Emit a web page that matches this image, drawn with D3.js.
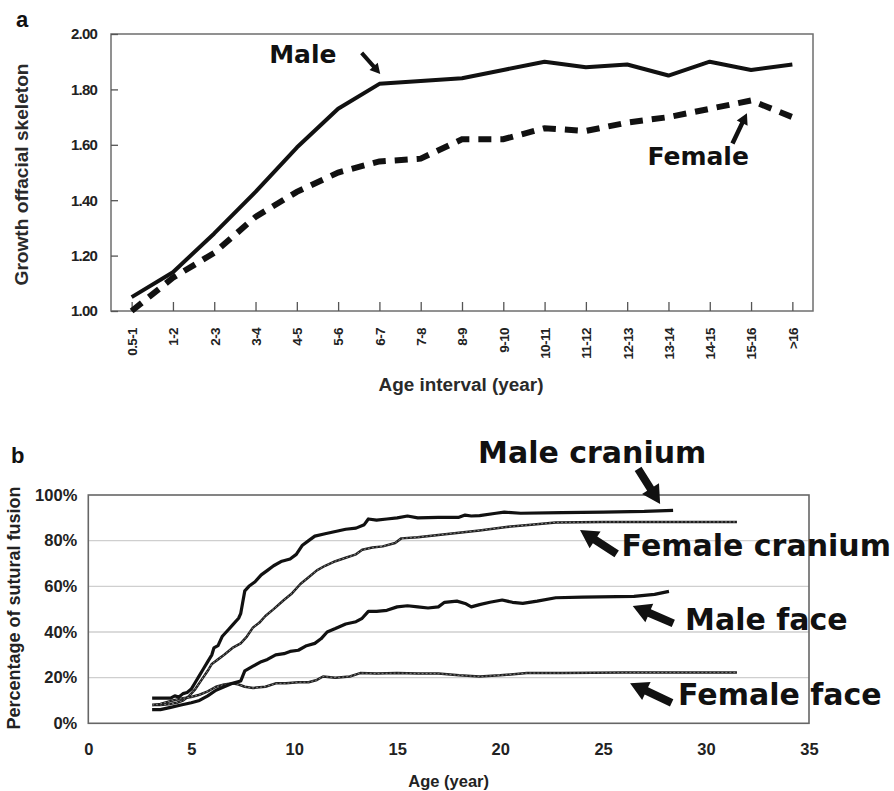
<!DOCTYPE html>
<html>
<head>
<meta charset="utf-8">
<script src="https://cdn.jsdelivr.net/npm/d3@7"></script>
<style>
  html, body { margin: 0; padding: 0; background: #fff; }
  svg { display: block; }
</style>
</head>
<body>
<svg id="fig" width="894" height="791"></svg>
<script>
// ---- Panel a: growth of the facial skeleton by age interval ----
const ageIntervals = ["0.5-1","1-2","2-3","3-4","4-5","5-6","6-7","7-8","8-9","9-10",
                      "10-11","11-12","12-13","13-14","14-15","15-16",">16"];
const maleGrowth   = [1.05,1.14,1.28,1.43,1.59,1.73,1.82,1.83,1.84,1.87,1.90,1.88,1.89,1.85,1.90,1.87,1.89];
const femaleGrowth = [1.00,1.12,1.21,1.34,1.43,1.50,1.54,1.55,1.62,1.62,1.66,1.65,1.68,1.70,1.73,1.76,1.70];
const growthTicks  = [1.00,1.20,1.40,1.60,1.80,2.00];

// ---- Panel b: cumulative sutural fusion by age ----
const maleCranium = [[3.1,11],[3.6,11],[4.0,11],[4.2,12],[4.4,11.5],[4.6,13],[4.8,13.5],[5.0,15],[5.2,18],
  [5.4,21],[5.6,24],[5.8,27],[6.0,30],[6.1,33],[6.3,34],[6.5,38],[6.8,41],[7.0,43],[7.3,46],[7.4,48],
  [7.5,53],[7.6,58],[7.8,60],[8.1,62],[8.4,65],[8.7,67],[9.0,69],[9.4,71],[9.8,72],[10.1,74],[10.4,78],
  [10.7,80],[11.0,82],[11.5,83],[12.0,84],[12.5,85],[13.0,85.5],[13.4,87],[13.6,89.5],[14.0,89],[14.5,89.5],
  [15.0,90],[15.5,90.8],[16.0,90],[17.0,90.2],[18.0,90.2],[18.3,91.2],[18.6,90.8],[19.0,91],[19.8,92],
  [20.2,92.5],[21.0,92],[23.0,92.3],[25.0,92.5],[27.0,92.8],[28.4,93.3]];
const femaleCranium = [[3.1,8],[3.5,8],[4.0,8.5],[4.3,9],[4.6,10],[4.9,12],[5.2,15],[5.5,19],[5.8,23],
  [6.0,26],[6.3,28],[6.6,30],[7.0,33],[7.4,35],[7.7,38],[8.0,42],[8.3,44],[8.6,47],[9.0,50],[9.5,54],
  [9.9,57],[10.3,61],[10.7,64],[11.1,67],[11.5,69],[12.0,71],[12.5,72.5],[13.0,74],[13.3,76],[13.8,77],
  [14.3,77.5],[14.9,79],[15.2,81],[16.0,81.5],[17.0,82.5],[18.0,83.5],[19.0,84.5],[20.3,86],[21.5,87],
  [22.7,88],[25.0,88.2],[28.0,88.2],[31.5,88.2]];
const maleFace = [[3.1,6],[3.5,6],[4.0,7],[4.5,8],[5.0,9],[5.4,10],[5.8,12],[6.2,14.5],[6.6,16],[7.0,17.5],
  [7.4,18.5],[7.6,23],[8.0,25],[8.4,27],[8.7,28],[9.1,30],[9.5,30.5],[9.8,31.5],[10.2,32],[10.6,34],
  [11.0,35],[11.3,37],[11.6,40],[12.0,41.5],[12.5,43.5],[13.0,44.5],[13.3,46],[13.6,49],[14.0,49],
  [14.5,49.5],[15.0,51],[15.5,51.5],[16.0,51],[16.5,50.5],[17.0,51],[17.3,53],[17.9,53.5],[18.3,52.5],
  [18.6,51],[19.0,52],[19.5,53],[20.1,54],[20.6,53],[21.1,52.5],[21.8,53.5],[22.7,55],[24.0,55.3],
  [26.5,55.6],[27.5,56.5],[28.2,57.8]];
const femaleFace = [[3.1,8],[3.5,8.5],[4.1,10],[4.6,11],[5.0,11.5],[5.4,12.5],[5.8,14],[6.2,16],[6.6,17],
  [7.0,17.5],[7.3,17],[7.6,16],[8.0,15.5],[8.6,16],[9.1,17.5],[9.6,17.5],[10.2,18],[10.7,18],[11.1,19],
  [11.4,20.5],[12.0,20],[12.7,20.5],[13.2,22],[14.0,21.8],[15.0,22],[16.0,21.8],[17.0,21.8],[18.0,21],
  [19.0,20.5],[20.0,21],[21.3,22],[23.0,22],[26.0,22.2],[29.0,22.3],[31.5,22.3]];
const ageTicks = [0,5,10,15,20,25,30,35];
const fusionTicks = [0,20,40,60,80,100];

const svg = d3.select("#fig");
const bold = "'Liberation Sans', Arial, sans-serif";
const heavy = "'DejaVu Sans', sans-serif";

// filled block arrow from a tail point to a tip point
function arrowPath(x1, y1, x2, y2, sw, hw, hl) {
  const dx = x2 - x1, dy = y2 - y1, len = Math.hypot(dx, dy);
  const ux = dx / len, uy = dy / len, nx = -uy, ny = ux;
  const bx = x2 - ux * hl, by = y2 - uy * hl;
  const p = [
    [x1 + nx * sw / 2, y1 + ny * sw / 2],
    [bx + nx * sw / 2, by + ny * sw / 2],
    [bx + nx * hw / 2, by + ny * hw / 2],
    [x2, y2],
    [bx - nx * hw / 2, by - ny * hw / 2],
    [bx - nx * sw / 2, by - ny * sw / 2],
    [x1 - nx * sw / 2, y1 - ny * sw / 2]
  ];
  return "M" + p.map(d => d.join(",")).join("L") + "Z";
}

// ================= Panel a =================
const A = { left: 111, right: 813, top: 34, bottom: 311 };
const xa = d3.scalePoint().domain(ageIntervals).range([A.left, A.right]).padding(0.5);
const xai = d3.scaleLinear().domain([0, ageIntervals.length - 1])
  .range([xa(ageIntervals[0]), xa(ageIntervals[ageIntervals.length - 1])]);
const ya = d3.scaleLinear().domain([1, 2]).range([A.bottom, A.top]);

const ga = svg.append("g");

// frame
ga.append("rect").attr("x", A.left).attr("y", A.top)
  .attr("width", A.right - A.left).attr("height", A.bottom - A.top)
  .attr("fill", "none").attr("stroke", "#6e6e6e").attr("stroke-width", 1.5);

// x axis (ticks pointing into the plot)
const xAxisA = ga.append("g").attr("transform", `translate(0,${A.bottom})`)
  .call(d3.axisBottom(xa).tickSizeInner(-9).tickSizeOuter(0).tickPadding(0));
xAxisA.select(".domain").remove();
xAxisA.selectAll(".tick line").attr("stroke", "#555").attr("stroke-width", 1.3);
xAxisA.selectAll(".tick text")
  .attr("transform", "rotate(-90)")
  .attr("x", -17).attr("y", 0).attr("dy", "0.36em")
  .attr("text-anchor", "end")
  .style("font-family", bold).style("font-weight", "bold").style("font-size", "13.5px")
  .style("letter-spacing", "-0.6px")
  .attr("fill", "#222");

// y axis
const yAxisA = ga.append("g").attr("transform", `translate(${A.left},0)`)
  .call(d3.axisLeft(ya).tickValues(growthTicks).tickFormat(d3.format(".2f"))
    .tickSizeInner(-7).tickSizeOuter(0).tickPadding(14));
yAxisA.select(".domain").remove();
yAxisA.selectAll(".tick line").attr("stroke", "#555").attr("stroke-width", 1.3);
yAxisA.selectAll(".tick text")
  .style("font-family", bold).style("font-weight", "bold").style("font-size", "15px")
  .style("letter-spacing", "-0.8px")
  .attr("fill", "#222");

// series
const lineA = d3.line().x((d, i) => xa(ageIntervals[i])).y(d => ya(d));
ga.append("path").datum(femaleGrowth).attr("d", lineA)
  .attr("fill", "none").attr("stroke", "#111").attr("stroke-width", 6)
  .attr("stroke-dasharray", "13,9");
ga.append("path").datum(maleGrowth).attr("d", lineA)
  .attr("fill", "none").attr("stroke", "#111").attr("stroke-width", 4)
  .attr("stroke-linejoin", "round");

// annotations
ga.append("text").attr("x", xai(3.33)).attr("y", ya(1.895))
  .style("font-family", heavy).style("font-weight", "bold").style("font-size", "25px")
  .attr("fill", "#111").text("Male");
ga.append("path").attr("d", arrowPath(xai(5.57), ya(1.932), xai(6.02), ya(1.856), 4, 11, 10))
  .attr("fill", "#111");
ga.append("text").attr("x", xai(12.49)).attr("y", ya(1.527))
  .style("font-family", heavy).style("font-weight", "bold").style("font-size", "25px")
  .attr("fill", "#111").text("Female");
ga.append("path").attr("d", arrowPath(xai(14.55), ya(1.605), xai(14.9), ya(1.714), 4.5, 12, 11))
  .attr("fill", "#111");

// axis titles
ga.append("text")
  .attr("transform", `translate(28,${(A.top + A.bottom) / 2 + 2}) rotate(-90)`)
  .attr("text-anchor", "middle")
  .attr("textLength", 222).attr("lengthAdjust", "spacingAndGlyphs")
  .style("font-family", bold).style("font-weight", "bold").style("font-size", "18px")
  .attr("fill", "#2a2a2a")
  .text("Growth offacial skeleton");
ga.append("text").attr("x", 461).attr("y", 391).attr("text-anchor", "middle")
  .attr("textLength", 165).attr("lengthAdjust", "spacingAndGlyphs")
  .style("font-family", bold).style("font-weight", "bold").style("font-size", "18px")
  .attr("fill", "#2a2a2a")
  .text("Age interval (year)");
ga.append("text").attr("x", 16).attr("y", 27)
  .style("font-family", bold).style("font-weight", "bold").style("font-size", "22px")
  .attr("fill", "#111").text("a");

// ================= Panel b =================
const B = { left: 88.3, right: 809, top: 495, bottom: 723.3 };
const xb = d3.scaleLinear().domain([0, 35]).range([B.left, B.right]);
const yb = d3.scaleLinear().domain([0, 100]).range([B.bottom, B.top]);

const gb = svg.append("g");

// gridlines
gb.append("g").selectAll("line").data(fusionTicks.filter(v => v > 0 && v < 100)).join("line")
  .attr("x1", B.left).attr("x2", B.right).attr("y1", d => yb(d)).attr("y2", d => yb(d))
  .attr("stroke", "#cfcfcf").attr("stroke-width", 1.3);

// frame
gb.append("rect").attr("x", B.left).attr("y", B.top)
  .attr("width", B.right - B.left).attr("height", B.bottom - B.top)
  .attr("fill", "none").attr("stroke", "#666").attr("stroke-width", 1.6);

const xAxisB = gb.append("g").attr("transform", `translate(0,${B.bottom})`)
  .call(d3.axisBottom(xb).tickValues(ageTicks).tickSize(0).tickPadding(20));
xAxisB.select(".domain").remove();
xAxisB.selectAll(".tick text")
  .style("font-family", bold).style("font-weight", "bold").style("font-size", "16.5px")
  .attr("fill", "#222");

const yAxisB = gb.append("g").attr("transform", `translate(${B.left},0)`)
  .call(d3.axisLeft(yb).tickValues(fusionTicks).tickFormat(d => d + "%").tickSize(0).tickPadding(11));
yAxisB.select(".domain").remove();
yAxisB.selectAll(".tick text")
  .style("font-family", bold).style("font-weight", "bold").style("font-size", "16.5px")
  .attr("fill", "#222");

const lineB = d3.line().x(d => xb(d[0])).y(d => yb(d[1]));

// female curves: thin serrated double-edged line
[femaleCranium, femaleFace].forEach(s => {
  gb.append("path").datum(s).attr("d", lineB)
    .attr("fill", "none").attr("stroke", "#1e1e1e").attr("stroke-width", 2.5)
    .attr("stroke-linejoin", "round");
  gb.append("path").datum(s).attr("d", lineB)
    .attr("fill", "none").attr("stroke", "#9a9a9a").attr("stroke-width", 0.8)
    .attr("stroke-dasharray", "2,2");
});
// male curves: heavy solid
[maleCranium, maleFace].forEach(s => {
  gb.append("path").datum(s).attr("d", lineB)
    .attr("fill", "none").attr("stroke", "#111").attr("stroke-width", 3.2)
    .attr("stroke-linejoin", "round");
});

// labels and arrows
const bigLabel = (x, y, t) => gb.append("text").attr("x", xb(x)).attr("y", yb(y))
  .style("font-family", heavy).style("font-weight", "bold").style("font-size", "30px")
  .attr("fill", "#111").text(t);
bigLabel(18.93, 114, "Male cranium");
bigLabel(25.9, 73.4, "Female cranium");
bigLabel(28.98, 41.0, "Male face");
bigLabel(28.64, 8.0, "Female face");

const bigArrow = (x1, y1, x2, y2) => gb.append("path")
  .attr("d", arrowPath(xb(x1), yb(y1), xb(x2), yb(y2), 8, 20, 18)).attr("fill", "#111");
bigArrow(26.7, 111.4, 27.77, 96.1);
bigArrow(25.66, 74.2, 23.88, 84.7);
bigArrow(28.41, 43.8, 26.44, 51.4);
bigArrow(28.33, 9.0, 26.31, 17.5);

// axis titles
gb.append("text")
  .attr("transform", `translate(20,${608}) rotate(-90)`)
  .attr("text-anchor", "middle")
  .style("font-family", bold).style("font-weight", "bold").style("font-size", "18px")
  .attr("fill", "#222").text("Percentage of sutural fusion");
gb.append("text").attr("x", (B.left + B.right) / 2).attr("y", 787).attr("text-anchor", "middle")
  .style("font-family", bold).style("font-weight", "bold").style("font-size", "16.5px")
  .attr("fill", "#222").text("Age (year)");
gb.append("text").attr("x", 11).attr("y", 463)
  .style("font-family", bold).style("font-weight", "bold").style("font-size", "22px")
  .attr("fill", "#111").text("b");
</script>
</body>
</html>
